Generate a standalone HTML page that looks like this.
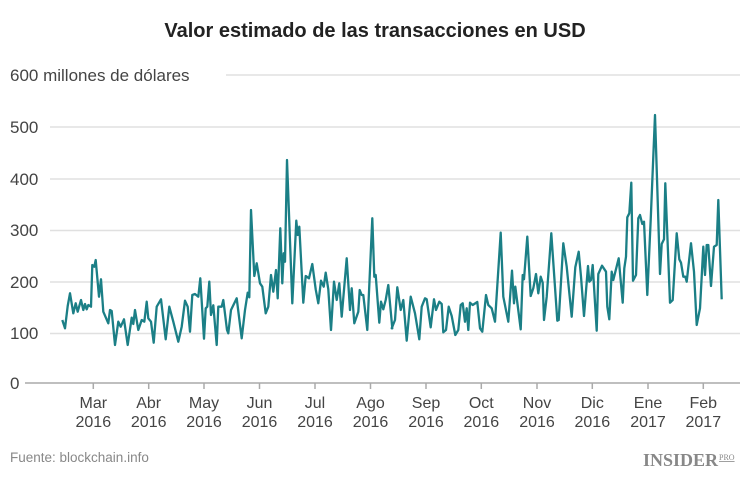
<!DOCTYPE html>
<html><head><meta charset="utf-8"><style>
body{margin:0;background:#fff;width:750px;height:473px;overflow:hidden;font-family:"Liberation Sans",sans-serif}
</style></head><body>
<svg id="s" width="750" height="473" xmlns="http://www.w3.org/2000/svg" font-family="Liberation Sans, sans-serif">
<text x="375" y="37" text-anchor="middle" font-size="20" font-weight="bold" fill="#222">Valor estimado de las transacciones en USD</text>
<g stroke="#e0e0e0" stroke-width="1.5">
<line x1="226" y1="75" x2="740" y2="75"/>
<line x1="50" y1="127" x2="740" y2="127"/>
<line x1="50" y1="179" x2="740" y2="179"/>
<line x1="50" y1="230.5" x2="740" y2="230.5"/>
<line x1="50" y1="282" x2="740" y2="282"/>
<line x1="50" y1="333.5" x2="740" y2="333.5"/>
</g>
<line x1="25" y1="383" x2="740" y2="383" stroke="#aaa" stroke-width="1.5"/>
<g fill="#444" font-size="17">
<text x="10" y="81">600 millones de dólares</text>
<text x="10" y="133">500</text>
<text x="10" y="185">400</text>
<text x="10" y="236">300</text>
<text x="10" y="288">200</text>
<text x="10" y="339">100</text>
<text x="10" y="389">0</text>
</g>
<g id="ticks" stroke="#aaa" stroke-width="1.5"></g>
<g id="tl" fill="#444" font-size="16" text-anchor="middle"></g>
<polyline id="ln" fill="none" stroke="#1b7f86" stroke-width="2.3" stroke-linejoin="round" points=""/>
<text x="10" y="462" font-size="13.5" fill="#888">Fuente: blockchain.info</text>
<text x="718" y="466" font-size="18" font-weight="bold" fill="#888" font-family="Liberation Serif, serif" text-anchor="end">INSIDER</text>
<text x="719" y="460" font-size="8" fill="#888" font-family="Liberation Serif, serif" text-decoration="underline">PRO</text>
</svg>
<script>
var a=[[22,510],[30,535],[38,468],[45,430],[55,490],[62,460],[68,485],[78,450],[85,480],[90,462],[95,478],[100,465],[108,470],[112,345],[118,350],[122,330],[132,440],[138,388],[145,485],[160,520],[165,480],[170,483],[180,585],[190,515],[197,530],[207,508],[218,585],[230,503],[235,522],[240,480],[250,540],[260,510],[268,515],[275,455],[280,505],[288,515],[296,578],[305,470],[318,448],[332,568],[343,470],[355,515],[370,575],[380,530],[390,452],[398,470],[405,545],[412,435],[420,432],[430,440],[436,385],[447,566],[452,475],[457,470],[463,395],[468,495],[475,466],[485,585],[490,470],[500,470],[505,450],[516,540],[520,550],[528,480],[545,445],[560,565],[570,480],[578,428],[583,442],[588,180],[598,378],[605,340],[615,400],[622,410],[632,490],[640,470],[648,375],[655,425],[663,360],[668,445],[676,235],[682,400],[686,310],[690,335],[696,30],[712,460],[724,212],[728,255],[733,230],[745,458],[752,378],[762,385],[772,342],[782,418],[790,460],[798,392],[806,410],[812,368],[820,418],[828,540],[837,395],[845,450],[853,400],[860,500],[875,325],[885,480],[890,415],[898,520],[910,485],[914,420],[920,435],[925,435],[937,540],[952,205],[958,380],[962,375],[973,518],[978,455],[985,478],[992,450],[1000,405],[1012,535]];
var b=[[5,685],[15,660],[22,562],[32,630],[40,600],[50,722],[62,590],[75,640],[88,718],[95,620],[105,595],[110,598],[122,682],[132,598],[138,630],[148,605],[155,612],[160,697],[168,690],[176,620],[185,648],[196,705],[205,690],[212,615],[218,610],[225,665],[230,625],[235,690],[240,608],[248,615],[262,606],[270,685],[277,695],[288,585],[295,615],[305,625],[315,665],[332,398],[340,590],[355,665],[366,512],[372,610],[376,560],[392,688],[398,525],[402,538],[412,410],[422,588],[430,565],[438,522],[445,580],[452,530],[458,548],[462,660],[470,590],[484,400],[502,662],[506,660],[520,430],[530,500],[545,650],[556,502],[566,455],[573,530],[582,648],[594,498],[598,545],[603,540],[608,495],[620,692],[625,522],[636,497],[648,515],[652,620],[658,658],[665,515],[670,540],[686,475],[698,608],[703,505],[708,470],[712,352],[718,340],[724,248],[729,542],[738,525],[745,355],[750,345],[757,372],[762,365],[772,585],[782,360],[795,45],[810,522],[815,432],[822,418],[826,250],[840,608],[848,600],[860,400],[868,478],[873,488],[880,530],[886,530],[890,545],[903,430],[912,515],[920,675],[930,625],[940,440],[945,525],[950,435],[955,435],[963,558],[972,440],[980,435],[985,300],[995,598]];
var p=[];
a.forEach(function(q){p.push((55+q[0]/3).toFixed(1)+","+(150+q[1]/3).toFixed(1));});
b.forEach(function(q){p.push((390+q[0]/3).toFixed(1)+","+(100+q[1]/3).toFixed(1));});
document.getElementById('ln').setAttribute('points',p.join(' '));
var ns="http://www.w3.org/2000/svg";
var xs=[93.3,148.7,204,259.5,315,370.5,426,481.3,537,592.3,648,703.3];
var m=[["Mar","2016"],["Abr","2016"],["May","2016"],["Jun","2016"],["Jul","2016"],["Ago","2016"],["Sep","2016"],["Oct","2016"],["Nov","2016"],["Dic","2016"],["Ene","2017"],["Feb","2017"]];
var T=document.getElementById('ticks'),L=document.getElementById('tl');
xs.forEach(function(x,i){
var l=document.createElementNS(ns,'line');l.setAttribute('x1',x);l.setAttribute('x2',x);l.setAttribute('y1',383);l.setAttribute('y2',389);T.appendChild(l);
[408,427].forEach(function(y,j){var t=document.createElementNS(ns,'text');t.setAttribute('x',x);t.setAttribute('y',y);t.textContent=m[i][j];L.appendChild(t);});
});
</script>
</body></html>
